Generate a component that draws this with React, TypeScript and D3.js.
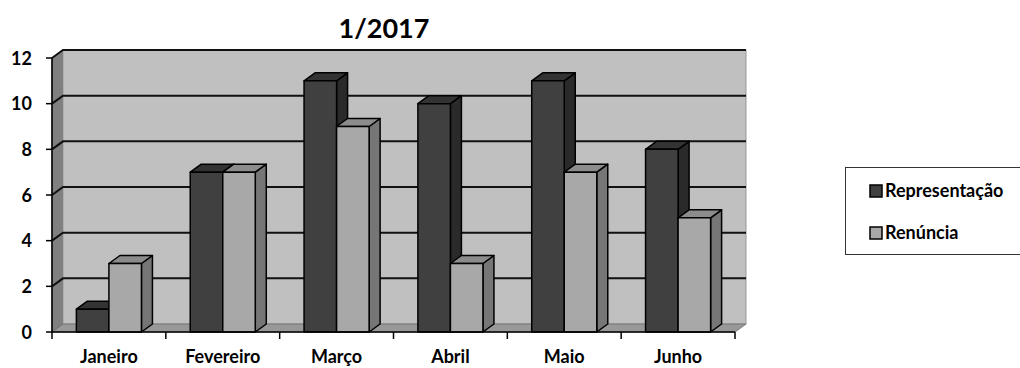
import React from "react";
import * as d3 from "d3";

const categories = ["Janeiro", "Fevereiro", "Março", "Abril", "Maio", "Junho"];
const seriesNames = ["Representação", "Renúncia"];
const representacao = [1, 7, 11, 10, 11, 8];
const renuncia = [3, 7, 9, 3, 7, 5];
const yTicks = [0, 2, 4, 6, 8, 10, 12];
const title = "1/2017";

const FONT = "Lato, 'Liberation Sans', sans-serif";

export default function App() {
  const W = 1020, H = 368;
  const left = 52, right = 735, top = 58, bottom = 332;
  const dx = 11, dy = -8;
  const x = d3.scaleBand<string>().domain(categories).range([left, right]).padding(0);
  const y = d3.scaleLinear().domain([0, 12]).range([bottom, top]);
  const inner = d3.scaleBand<string>().domain(seriesNames).range([0, x.bandwidth()]).paddingInner(0).paddingOuter(0.75);

  const series = [
    { name: seriesNames[0], values: representacao, front: "#404040", side: "#2a2a2a", top: "#333333" },
    { name: seriesNames[1], values: renuncia, front: "#a8a8a8", side: "#767676", top: "#8c8c8c" },
  ];

  const bars: JSX.Element[] = [];
  categories.forEach((c, i) => {
    series.forEach((s, j) => {
      const x0 = (x(c) as number) + (inner(s.name) as number);
      const w = inner.bandwidth();
      const y0 = y(s.values[i]);
      const yb = y(0);
      const x1 = x0 + w;
      bars.push(
        <g key={c + j} stroke="#000" strokeWidth={1.5} strokeLinejoin="round">
          <polygon points={`${x1},${yb} ${x1 + dx},${yb + dy} ${x1 + dx},${y0 + dy} ${x1},${y0}`} fill={s.side} />
          <polygon points={`${x0},${y0} ${x0 + dx},${y0 + dy} ${x1 + dx},${y0 + dy} ${x1},${y0}`} fill={s.top} />
          <rect x={x0} y={y0} width={w} height={yb - y0} fill={s.front} />
        </g>
      );
    });
  });

  return (
    <svg width={W} height={H} style={{ position: "absolute", left: 0, top: 0, background: "#fff" }}>
      <text x={384} y={38} textAnchor="middle" fontFamily={FONT} fontWeight="bold" fontSize={27}>{title}</text>
      {/* walls */}
      <polygon points={`${left},${top} ${left + dx},${top + dy} ${left + dx},${bottom + dy} ${left},${bottom}`} fill="#808080" stroke="#555" strokeWidth={1} />
      <rect x={left + dx} y={top + dy} width={right - left} height={bottom - top} fill="#c0c0c0" stroke="#999" strokeWidth={1} />
      <polygon points={`${left},${bottom} ${left + dx},${bottom + dy} ${right + dx},${bottom + dy} ${right},${bottom}`} fill="#989898" stroke="#777" strokeWidth={1} />
      {/* gridlines */}
      {yTicks.filter(v => v > 0).map(v => (
        <polyline key={v} points={`${left},${y(v)} ${left + dx},${y(v) + dy} ${right + dx},${y(v) + dy}`} fill="none" stroke="#111" strokeWidth={2} />
      ))}
      {bars}
      {/* axes */}
      <line x1={left} y1={top} x2={left} y2={bottom} stroke="#000" strokeWidth={1.5} />
      <line x1={left} y1={bottom} x2={right} y2={bottom} stroke="#000" strokeWidth={1.5} />
      {yTicks.map(v => (
        <g key={v}>
          <line x1={left - 6} x2={left} y1={y(v)} y2={y(v)} stroke="#000" strokeWidth={1.5} />
          <text x={32} y={y(v) + 6.5} textAnchor="end" fontFamily={FONT} fontWeight="bold" fontSize={18}>{v}</text>
        </g>
      ))}
      {[...categories.map(c => x(c) as number), right].map((bx, i) => (
        <line key={i} x1={bx} x2={bx} y1={bottom} y2={bottom + 7} stroke="#000" strokeWidth={1.5} />
      ))}
      {categories.map(c => (
        <text key={c} x={(x(c) as number) + x.bandwidth() / 2} y={363} textAnchor="middle" fontFamily={FONT} fontWeight="bold" fontSize={18}>{c}</text>
      ))}
      {/* legend */}
      <rect x={845.5} y={167.5} width={180} height={87} fill="#fff" stroke="#333" strokeWidth={1} />
      {series.map((s, i) => (
        <g key={s.name}>
          <rect x={870} y={185 + i * 42} width={12} height={12} fill={s.front} stroke="#000" strokeWidth={1.5} />
          <text x={885} y={197 + i * 42} fontFamily={FONT} fontWeight="bold" fontSize={18}>{s.name}</text>
        </g>
      ))}
    </svg>
  );
}
